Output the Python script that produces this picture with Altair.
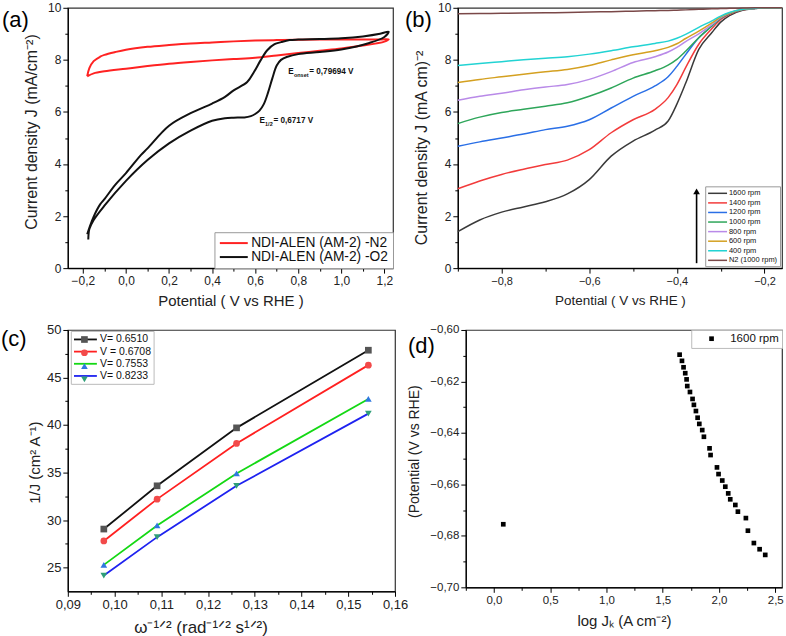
import altair as alt
import pandas as pd

FONT = "Liberation Sans"

# ================= (a) CV curves =================
a_n2_x = [-0.18, -0.17, -0.15, -0.12, -0.10, -0.05, 0.00, 0.10, 0.20, 0.30, 0.40, 0.50, 0.60, 0.70,
          0.80, 0.90, 1.00, 1.10, 1.18, 1.22,
          1.20, 1.10, 1.00, 0.90, 0.80, 0.70, 0.60, 0.50, 0.40, 0.30, 0.20, 0.10, 0.00, -0.10, -0.15, -0.18]
a_n2_y = [7.37, 7.68, 7.95, 8.12, 8.19, 8.30, 8.39, 8.50, 8.57, 8.63, 8.67, 8.71, 8.74, 8.76,
          8.77, 8.78, 8.78, 8.78, 8.78, 8.79,
          8.70, 8.55, 8.44, 8.35, 8.26, 8.17, 8.08, 8.03, 7.98, 7.92, 7.85, 7.76, 7.66, 7.56, 7.48, 7.37]
a_o2_x = [-0.18, -0.17, -0.15, -0.12, -0.10, -0.05, 0.00, 0.07, 0.10, 0.20, 0.30, 0.40, 0.46, 0.50,
          0.563, 0.595, 0.625, 0.656, 0.69, 0.72, 0.76, 0.80, 0.90, 1.00, 1.10, 1.18, 1.22,
          1.20, 1.13, 1.00, 0.90, 0.80, 0.75, 0.72, 0.70, 0.68, 0.66, 0.64, 0.62, 0.60, 0.58, 0.55,
          0.50, 0.46, 0.40, 0.30, 0.20, 0.10, 0.00, -0.10, -0.15, -0.17, -0.175]
a_o2_y = [1.30, 1.55, 1.98, 2.45, 2.65, 3.20, 3.65, 4.35, 4.60, 5.47, 5.95, 6.32, 6.58, 6.83,
          7.15, 7.54, 7.98, 8.37, 8.60, 8.68, 8.76, 8.78, 8.80, 8.83, 8.90, 9.00, 9.08,
          8.88, 8.65, 8.40, 8.30, 8.22, 8.12, 8.00, 7.78, 7.30, 6.75, 6.30, 6.05, 5.92, 5.84, 5.79,
          5.78, 5.76, 5.66, 5.28, 4.79, 4.15, 3.35, 2.40, 1.85, 1.50, 1.10]
a_series = ["NDI-ALEN (AM-2) -N2", "NDI-ALEN (AM-2) -O2"]
a_colors = ["#ff2222", "#111111"]
a_xticks = [-0.2, -0.1, 0.0, 0.1, 0.2, 0.3, 0.4, 0.5, 0.6, 0.7, 0.8, 0.9, 1.0, 1.1, 1.2]
a_yticks = [0, 1, 2, 3, 4, 5, 6, 7, 8, 9, 10]

# ================= (b) LSV at several rotation rates =================
b_x = [-0.90, -0.85, -0.80, -0.75, -0.70, -0.65, -0.60, -0.55, -0.50, -0.45, -0.42, -0.40, -0.38,
       -0.35, -0.32, -0.30, -0.28, -0.25, -0.22, -0.20, -0.16]
b_1600 = [1.40, 1.85, 2.15, 2.35, 2.55, 2.85, 3.40, 4.30, 4.88, 5.30, 5.65, 6.30, 7.10, 8.40, 9.05,
          9.45, 9.70, 9.90, 9.97, 10.0, 10.0]
b_1400 = [3.05, 3.35, 3.60, 3.80, 3.98, 4.15, 4.55, 5.20, 5.70, 6.10, 6.55, 7.05, 7.70, 8.60, 9.20,
          9.55, 9.75, 9.92, 9.98, 10.0, 10.0]
b_1200 = [4.68, 4.85, 5.00, 5.15, 5.32, 5.45, 5.70, 6.15, 6.60, 7.00, 7.35, 7.75, 8.20, 8.85, 9.30,
          9.60, 9.78, 9.93, 9.98, 10.0, 10.0]
b_1000 = [5.55, 5.80, 5.98, 6.10, 6.22, 6.35, 6.60, 6.92, 7.30, 7.58, 7.80, 8.02, 8.33, 8.85, 9.30,
          9.60, 9.78, 9.93, 9.98, 10.0, 10.0]
b_800 = [6.45, 6.60, 6.72, 6.85, 6.96, 7.05, 7.25, 7.55, 7.90, 8.12, 8.30, 8.48, 8.70, 9.00, 9.35,
         9.62, 9.80, 9.94, 9.98, 10.0, 10.0]
b_600 = [7.13, 7.25, 7.35, 7.45, 7.54, 7.63, 7.78, 8.00, 8.20, 8.35, 8.48, 8.62, 8.82, 9.10, 9.42,
         9.65, 9.80, 9.94, 9.98, 10.0, 10.0]
b_400 = [7.78, 7.86, 7.93, 8.00, 8.06, 8.12, 8.22, 8.35, 8.50, 8.63, 8.72, 8.83, 8.98, 9.25, 9.50,
         9.68, 9.82, 9.94, 9.98, 10.0, 10.0]
b_n2 = [9.77, 9.78, 9.79, 9.80, 9.81, 9.82, 9.84, 9.85, 9.87, 9.89, 9.90, 9.91, 9.92, 9.94, 9.96,
        9.97, 9.98, 9.99, 10.0, 10.0, 10.0]
b_series = ["1600 rpm", "1400 rpm", "1200 rpm", "1000 rpm", "800 rpm", "600 rpm", "400 rpm",
            "N2 (1000 rpm)"]
b_colors = ["#3a3a3a", "#f23b3b", "#2a6fe6", "#2ea65a", "#b98ae8", "#d4a020", "#22d3d3", "#7a4848"]
b_arrow_x = [-0.355]
b_arrow_y0 = [0.19]
b_arrow_y1 = [2.85]
b_head_y = [2.95]
b_xticks = [-0.9, -0.8, -0.7, -0.6, -0.5, -0.4, -0.3, -0.2]
b_yticks = [0, 1, 2, 3, 4, 5, 6, 7, 8, 9, 10]

# ================= (c) Koutecky-Levich =================
c_x = [0.0977, 0.1091, 0.1261, 0.1543]
c_0651 = [29.05, 33.60, 39.70, 47.87]
c_06708 = [27.80, 32.20, 38.06, 46.30]
c_07553 = [25.28, 29.43, 34.90, 42.74]
c_08233 = [24.16, 28.20, 33.60, 41.20]
c_series = ["V= 0.6510", "V = 0.6708", "V= 0.7553", "V= 0.8233"]
c_line_colors = ["#111111", "#ff2020", "#14d814", "#1e22f0"]
c_mark_colors = ["#555555", "#f24a4a", "#2f78e0", "#2f9e78"]
c_shapes = ["square", "circle", "triangle-up", "triangle-down"]
c_xticks = [0.09, 0.095, 0.10, 0.105, 0.11, 0.115, 0.12, 0.125, 0.13, 0.135, 0.14, 0.145, 0.15, 0.155, 0.16]
c_yticks = [25, 27.5, 30, 32.5, 35, 37.5, 40, 42.5, 45, 47.5, 50]
c_ytitle = ["1/J (cm² A⁻¹)"]

# ================= (d) Tafel =================
d_x = [1.650, 1.671, 1.685, 1.700, 1.712, 1.718, 1.742, 1.765, 1.777, 1.795, 1.810, 1.825, 1.851,
       1.866, 1.916, 1.925, 1.982, 1.996, 2.029, 2.056, 2.082, 2.100, 2.145, 2.168, 2.239, 2.257,
       2.310, 2.361, 2.411, 0.083]
d_y = [-0.6096, -0.6120, -0.6145, -0.6168, -0.6192, -0.6218, -0.6241, -0.6268, -0.6291, -0.6315,
       -0.6341, -0.6365, -0.6389, -0.6415, -0.6460, -0.6486, -0.6534, -0.6560, -0.6585, -0.6609,
       -0.6635, -0.6658, -0.6680, -0.6706, -0.6731, -0.6780, -0.6828, -0.6852, -0.6874, -0.6755]
d_series = ["1600 rpm"]
d_xticks = [-0.25, 0.0, 0.25, 0.5, 0.75, 1.0, 1.25, 1.5, 1.75, 2.0, 2.25, 2.5]
d_yticks = [-0.70, -0.69, -0.68, -0.67, -0.66, -0.65, -0.64, -0.63, -0.62, -0.61, -0.60]


def axis(values, test, fmt, title, lsize, tsize, tpad, **kw):
    opts = dict(titleAlign="center", titleAnchor="middle")
    opts.update(kw)
    return alt.Axis(
        values=values,
        labelExpr=f"({test}) ? replace(format(datum.value, '{fmt}'), '.', ',') : ''",
        tickSize={"condition": {"test": test, "value": 5}, "value": 3},
        title=title, labelFontSize=lsize, titleFontSize=tsize, titlePadding=tpad,
        labelFlush=False, labelOverlap=False, labelPadding=2, grid=False, **opts
    )


def panel_label(text, x, y):
    return alt.Chart(pd.DataFrame({"lab": [text]})).mark_text(
        align="left", baseline="middle", fontSize=22, font=FONT, color="black"
    ).encode(x=alt.value(x), y=alt.value(y), text="lab:N")


# ---------- panel (a) ----------
rows = []
for s, xs, ys in [(a_series[0], a_n2_x, a_n2_y), (a_series[1], a_o2_x, a_o2_y)]:
    for i, (xv, yv) in enumerate(zip(xs, ys)):
        rows.append({"x": xv, "y": yv, "series": s, "i": i})
df_a = pd.DataFrame(rows)
sx_a = alt.Scale(domain=[-0.27, 1.24], nice=False, zero=False)
sy_a = alt.Scale(domain=[0, 10], nice=False)
ax_a = axis(a_xticks, "abs(round(datum.value*10)) % 2 == 0", ".1f", "Potential ( V vs RHE )", 12, 15, 7)
ay_a = axis(a_yticks, "datum.value % 2 == 0", "d", "Current density J (mA/cm⁻²)", 12, 16, 8, titleY=124)

lines_a = alt.Chart(df_a).mark_line(strokeWidth=2, interpolate="catmull-rom").encode(
    x=alt.X("x:Q", scale=sx_a, axis=ax_a),
    y=alt.Y("y:Q", scale=sy_a, axis=ay_a),
    color=alt.Color("series:N", scale=alt.Scale(domain=a_series, range=a_colors),
                    legend=alt.Legend(title=None, orient="bottom-right", offset=0,
                                      symbolType="M-2.545,0H2.545", symbolSize=121, symbolStrokeWidth=2,
                                      symbolOffset=8.5, labelOffset=10.5, labelFontSize=13.8,
                                      labelColor="#111", padding=4, rowPadding=-1.8,
                                      strokeColor="#999", fillColor="white", cornerRadius=0)),
    order="i:Q",
)

ann_a = pd.DataFrame({"x": [0.754, 0.62], "y": [7.55, 5.67], "sub": ["onset", "1/2"],
                      "rest": ["= 0,79694 V", "= 0,6717 V"], "e": ["E", "E"]})


def ann_layer(df, field, size, dx, dy):
    return alt.Chart(df).mark_text(align="left", baseline="middle", fontSize=size, fontWeight="bold",
                                   font=FONT, color="#111", dx=dx, dy=dy).encode(
        x=alt.X("x:Q", scale=sx_a, axis=ax_a), y=alt.Y("y:Q", scale=sy_a, axis=ay_a), text=f"{field}:N")


e_layer = ann_layer(ann_a, "e", 8.2, 0, 0)
sub_layer = ann_layer(ann_a, "sub", 5.5, 5.6, 3)
rest1 = ann_layer(ann_a.iloc[[0]], "rest", 8.2, 21, 0)
rest2 = ann_layer(ann_a.iloc[[1]], "rest", 8.2, 14, 0)

chart_a = alt.layer(lines_a, e_layer, sub_layer, rest1, rest2, panel_label("(a)", -66, 12)).properties(
    width=326, height=261)

# ---------- panel (b) ----------
rows = []
for s, ys in zip(b_series, [b_1600, b_1400, b_1200, b_1000, b_800, b_600, b_400, b_n2]):
    for xv, yv in zip(b_x, ys):
        rows.append({"x": xv, "y": yv, "rpm": s})
df_b = pd.DataFrame(rows)
sx_b = alt.Scale(domain=[-0.9, -0.16], nice=False, zero=False)
sy_b = alt.Scale(domain=[0, 10], nice=False)
ax_b = axis(b_xticks, "abs(round(datum.value*10)) % 2 == 0", ".1f", "Potential ( V vs RHE )", 11, 13.5, 7)
ay_b = axis(b_yticks, "datum.value % 2 == 0", "d", "Current density J (mA cm)⁻²", 12, 16, 8, titleY=140)

lines_b = alt.Chart(df_b).mark_line(strokeWidth=1.5, interpolate="monotone").encode(
    x=alt.X("x:Q", scale=sx_b, axis=ax_b),
    y=alt.Y("y:Q", scale=sy_b, axis=ay_b),
    color=alt.Color("rpm:N", scale=alt.Scale(domain=b_series, range=b_colors),
                    legend=alt.Legend(title=None, orient="bottom-right", offset=2,
                                      symbolType="M-2.32,0H2.32", symbolSize=67, symbolStrokeWidth=1.5,
                                      symbolOffset=5.4, labelOffset=6.4, labelFontSize=7.5,
                                      labelColor="#111", padding=2, rowPadding=0.6,
                                      strokeColor="#999", fillColor="white", cornerRadius=0)),
)
df_arrow = pd.DataFrame({"x": b_arrow_x, "y": b_arrow_y0, "y2": b_arrow_y1, "h": b_head_y})
arrow_rule = alt.Chart(df_arrow).mark_rule(color="black", strokeWidth=1.6).encode(
    x=alt.X("x:Q", scale=sx_b, axis=ax_b), y=alt.Y("y:Q", scale=sy_b, axis=ay_b), y2="y2:Q")
arrow_head = alt.Chart(df_arrow).mark_point(shape="triangle-up", filled=True, color="black", size=45,
                                            opacity=1).encode(
    x=alt.X("x:Q", scale=sx_b, axis=ax_b), y=alt.Y("h:Q", scale=sy_b, axis=ay_b))

chart_b = alt.layer(lines_b, arrow_rule, arrow_head, panel_label("(b)", -53, 12)).properties(
    width=325, height=261)

# ---------- panel (c) ----------
c_pseries = ["pt " + s for s in c_series]
rows = []
for s, ps, ys in zip(c_series, c_pseries, [c_0651, c_06708, c_07553, c_08233]):
    for xv, yv in zip(c_x, ys):
        rows.append({"x": xv, "y": yv, "series": s, "sp": ps})
df_c = pd.DataFrame(rows)
sx_c = alt.Scale(domain=[0.09, 0.16], nice=False, zero=False)
sy_c = alt.Scale(domain=[22.5, 50], nice=False, zero=False)
ax_c = axis(c_xticks, "round(datum.value*1000) % 10 == 0", ".2f", "ω⁻¹ᐟ² (rad⁻¹ᐟ² s¹ᐟ²)", 13, 17, 8,
            titleX=66, titleAlign="left", titleAnchor="start")
ay_c = axis(c_yticks, "round(datum.value*10) % 50 == 0", "d", None, 13, 15, 8)

lines_c = alt.Chart(df_c).mark_line(strokeWidth=1.8).encode(
    x=alt.X("x:Q", scale=sx_c, axis=ax_c),
    y=alt.Y("y:Q", scale=sy_c, axis=ay_c),
    color=alt.Color("series:N", scale=alt.Scale(domain=c_series, range=c_line_colors),
                    legend=alt.Legend(title=None, orient="none", legendX=3, legendY=1,
                                      symbolType="M-2.15,0H2.15", symbolSize=114, symbolStrokeWidth=1.8,
                                      symbolOffset=6.15, labelOffset=8.15, labelFontSize=10.5,
                                      labelColor="#111", padding=2, rowPadding=0.2,
                                      strokeColor="#bbb", fillColor="white", cornerRadius=0)),
)
pleg = alt.Legend(title=None, orient="none", legendX=3, legendY=4.05, symbolSize=45, labelFontSize=1,
                  labelExpr="''", padding=2, rowPadding=6.3, labelOffset=0, symbolOffset=8.15,
                  symbolStrokeWidth=0, cornerRadius=0)
points_c = alt.Chart(df_c).mark_point(filled=True, size=45, opacity=1).encode(
    x=alt.X("x:Q", scale=sx_c, axis=ax_c),
    y=alt.Y("y:Q", scale=sy_c, axis=ay_c),
    fill=alt.Fill("sp:N", scale=alt.Scale(domain=c_pseries, range=c_mark_colors), legend=pleg),
    shape=alt.Shape("sp:N", scale=alt.Scale(domain=c_pseries, range=c_shapes), legend=pleg),
)
# y-axis title of (c), drawn as a rotated text beside the axis labels
ytitle_c = alt.Chart(pd.DataFrame({"t": c_ytitle})).mark_text(
    angle=270, align="center", baseline="middle", fontSize=15, font=FONT, color="#222"
).encode(x=alt.value(-33), y=alt.value(133), text="t:N")
chart_c = alt.layer(lines_c, points_c, ytitle_c, panel_label("(c)", -67, 9)).properties(width=328, height=262)

# ---------- panel (d) ----------
df_d = pd.DataFrame({"x": d_x, "y": d_y, "series": d_series * len(d_x)})
sx_d = alt.Scale(domain=[-0.25, 2.56], nice=False, zero=False)
sy_d = alt.Scale(domain=[-0.70, -0.60], nice=False, zero=False)
ax_d = axis(d_xticks, "round(datum.value*100) % 50 == 0", ".1f", "log Jₖ (A cm⁻²)", 11.5, 15, 8)
ay_d = axis(d_yticks, "abs(round(datum.value*100)) % 2 == 0", ".2f", "(Potential (V vs RHE)", 11.5, 14, 8,
            titleY=121.5)
dleg = alt.Legend(title=None, orient="top-right", offset=0, symbolSize=22, labelFontSize=11.5,
                  labelColor="#111", padding=3, symbolOffset=11.6, labelOffset=13, symbolStrokeWidth=0,
                  strokeColor="#bbb", fillColor="white", cornerRadius=0)
points_d = alt.Chart(df_d).mark_point(filled=True, size=22, opacity=1).encode(
    x=alt.X("x:Q", scale=sx_d, axis=ax_d),
    y=alt.Y("y:Q", scale=sy_d, axis=ay_d),
    fill=alt.Fill("series:N", scale=alt.Scale(domain=d_series, range=["black"]), legend=dleg),
    shape=alt.Shape("series:N", scale=alt.Scale(domain=d_series, range=["square"]), legend=dleg),
)
chart_d = alt.layer(points_d, panel_label("(d)", -58, 16)).properties(width=317, height=258)

res = dict(color="independent", fill="independent", shape="independent")
row1 = alt.hconcat(chart_a, chart_b, spacing=65, bounds="flush").resolve_scale(**res)
row2 = alt.hconcat(chart_c, chart_d, spacing=71, bounds="flush").resolve_scale(**res)
# with flush bounds the nested row counts as zero height, so the spacing carries row 1's height
chart = alt.vconcat(row1, row2, spacing=323, bounds="flush").resolve_scale(**res).properties(
    padding={"left": 0, "top": 0, "right": 0, "bottom": 0}, background="white"
).configure_axis(
    labelFont=FONT, titleFont=FONT, domainColor="black", tickColor="black", labelColor="#222",
    titleColor="#222", titleFontWeight="normal", domainWidth=1.2, tickWidth=1,
).configure_view(stroke="#333", strokeWidth=1.2).configure_legend(labelFont=FONT, titleFont=FONT)

chart.save("out.html", embed_options={"renderer": "svg", "actions": False})
